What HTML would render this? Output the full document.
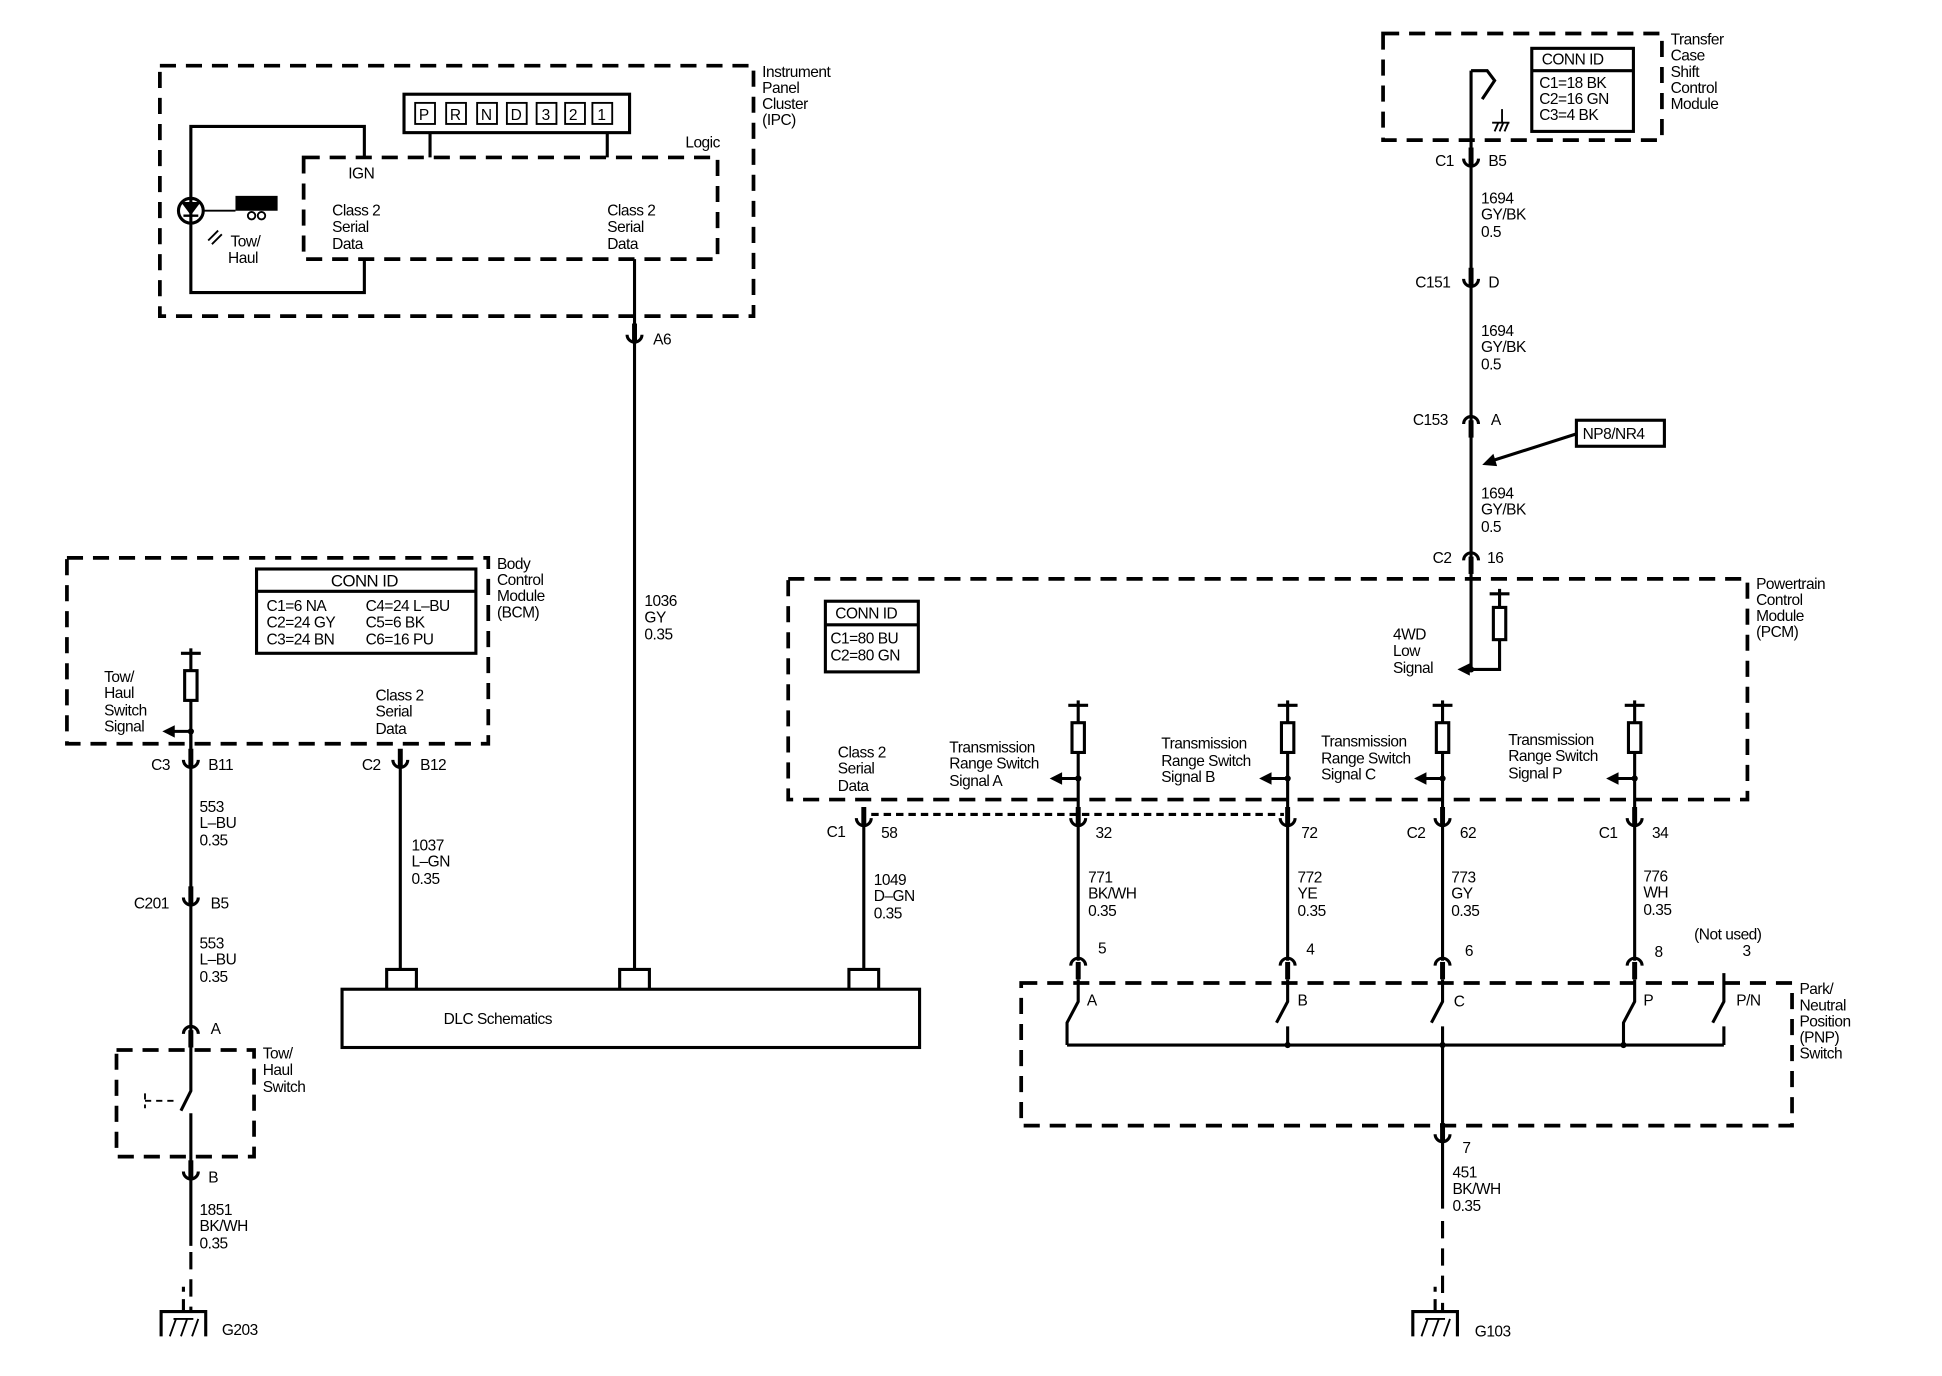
<!DOCTYPE html>
<html><head><meta charset="utf-8"><style>
html,body{margin:0;padding:0;background:#fff;}
svg{display:block;}
text{font-family:"Liberation Sans",sans-serif;font-size:12.5px;fill:#000;letter-spacing:-0.4px;}
.w{stroke:#000;stroke-width:2.5;fill:none;}
.d{stroke:#000;stroke-width:3;fill:none;stroke-dasharray:13 8;}
.t{stroke:#000;stroke-width:1.5;fill:none;}
</style></head><body>
<svg width="1942" height="1376" viewBox="0 0 1567 1110" preserveAspectRatio="none" xmlns="http://www.w3.org/2000/svg">
<defs>
<g id="cup"><path d="M-6,-5 A6,6 0 0 0 6,-5" class="w"/><line x1="0" y1="-14" x2="0" y2="2" stroke="#000" stroke-width="4"/></g>
<g id="cap"><path d="M-6,5 A6,6 0 0 1 6,5" class="w"/><line x1="0" y1="2" x2="0" y2="16" stroke="#000" stroke-width="4"/></g>
<g id="res"><line x1="-8" y1="0" x2="8" y2="0" class="w"/><line x1="0" y1="-4" x2="0" y2="14" class="w"/><rect x="-5" y="14" width="10" height="24" class="w"/><line x1="0" y1="38" x2="0" y2="92" class="w"/></g>
<g id="gnd"><path d="M-24,20 V0 H12 V20" class="w"/><line x1="-6" y1="0" x2="-6" y2="-20" class="w" stroke-dasharray="10 6"/><path d="M-17,20 L-12,6 M-8,20 L-3,6 M1,20 L6,6 M-14,6 H2" class="t" stroke-width="2"/></g>
</defs>

<!-- IPC -->
<rect x="129" y="53" width="479" height="202" class="d"/>
<text x="615" y="62">Instrument</text><text x="615" y="75">Panel</text><text x="615" y="88">Cluster</text><text x="615" y="101">(IPC)</text>
<rect x="326" y="76" width="182" height="31" class="w" stroke-width="3"/>
<g class="t" stroke-width="2">
<rect x="335" y="83" width="16" height="17"/><rect x="360" y="83" width="16" height="17"/><rect x="385" y="83" width="16" height="17"/><rect x="409" y="83" width="16" height="17"/><rect x="433" y="83" width="16" height="17"/><rect x="456" y="83" width="16" height="17"/><rect x="478" y="83" width="16" height="17"/>
</g>
<text x="338" y="97">P</text><text x="363" y="97">R</text><text x="388" y="97">N</text><text x="412" y="97">D</text><text x="437" y="97">3</text><text x="459" y="97">2</text><text x="482" y="97">1</text>
<path d="M347,107V127 M490,107V127" class="w"/>
<rect x="245" y="127" width="334" height="82" class="d" stroke-dasharray="11 7"/>
<text x="553" y="119">Logic</text>
<path d="M294,127V102H154V236H294V209" class="w"/>
<circle cx="154" cy="170" r="10" class="w"/>
<path d="M148,164H160L154,172Z M148,174H160" stroke="#000" stroke-width="2" fill="#000"/>
<line x1="165" y1="170" x2="190" y2="170" class="t"/>
<rect x="190" y="158" width="34" height="12" fill="#000"/>
<circle cx="203" cy="174" r="3" class="t" stroke-width="1.2"/><circle cx="211" cy="174" r="3" class="t" stroke-width="1.2"/>
<path d="M168,194L176,186M171,197L179,189" class="t" stroke-width="1.2"/>
<text x="186" y="199">Tow/</text><text x="184" y="212">Haul</text>
<text x="281" y="144">IGN</text>
<text x="268" y="174">Class 2</text><text x="268" y="187">Serial</text><text x="268" y="201">Data</text>
<text x="490" y="174">Class 2</text><text x="490" y="187">Serial</text><text x="490" y="201">Data</text>
<line x1="512" y1="209" x2="512" y2="783" class="w"/>
<use href="#cup" x="512" y="275"/>
<text x="527" y="278">A6</text>
<text x="520" y="489">1036</text><text x="520" y="502">GY</text><text x="520" y="516">0.35</text>

<!-- BCM -->
<rect x="54" y="450" width="340" height="150" class="d"/>
<text x="401" y="459">Body</text><text x="401" y="472">Control</text><text x="401" y="485">Module</text><text x="401" y="498">(BCM)</text>
<rect x="207" y="459" width="177" height="68" class="w" stroke-width="3"/>
<line x1="207" y1="477" x2="384" y2="477" class="w"/>
<text x="267" y="473" style="font-size:13.5px">CONN ID</text>
<text x="215" y="493">C1=6 NA</text><text x="295" y="493">C4=24 L–BU</text>
<text x="215" y="506">C2=24 GY</text><text x="295" y="506">C5=6 BK</text>
<text x="215" y="520">C3=24 BN</text><text x="295" y="520">C6=16 PU</text>
<use href="#res" x="154" y="527"/>
<line x1="154" y1="590" x2="154" y2="610" class="w"/>
<line x1="154" y1="590" x2="140" y2="590" class="w"/><path d="M131,590L141,585V595Z" fill="#000"/><circle cx="154" cy="590" r="2.5" fill="#000"/>
<text x="84" y="550">Tow/</text><text x="84" y="563">Haul</text><text x="84" y="577">Switch</text><text x="84" y="590">Signal</text>
<text x="303" y="565">Class 2</text><text x="303" y="578">Serial</text><text x="303" y="592">Data</text>
<use href="#cup" x="154" y="618"/><text x="122" y="621">C3</text><text x="168" y="621">B11</text>
<use href="#cup" x="323" y="618"/><text x="292" y="621">C2</text><text x="339" y="621">B12</text>
<line x1="154" y1="618" x2="154" y2="840" class="w"/>
<text x="161" y="655">553</text><text x="161" y="668">L–BU</text><text x="161" y="682">0.35</text>
<use href="#cup" x="154" y="729"/><text x="108" y="733">C201</text><text x="170" y="733">B5</text>
<text x="161" y="765">553</text><text x="161" y="778">L–BU</text><text x="161" y="792">0.35</text>
<use href="#cap" x="154" y="829"/><text x="170" y="834">A</text>
<rect x="94" y="847" width="111" height="86" class="d" stroke-dasharray="10 7"/>
<text x="212" y="854">Tow/</text><text x="212" y="867">Haul</text><text x="212" y="881">Switch</text>
<path d="M154,840V880L146,896 M154,898V945" class="w"/>
<path d="M117,882V894 M117,888H140" class="t" stroke-width="2" stroke-dasharray="5 4"/>
<use href="#cup" x="154" y="950"/><text x="168" y="954">B</text>
<line x1="154" y1="950" x2="154" y2="1005" class="w"/>
<text x="161" y="980">1851</text><text x="161" y="993">BK/WH</text><text x="161" y="1007">0.35</text>
<line x1="154" y1="1010" x2="154" y2="1058" class="w" stroke-dasharray="14 8"/>
<use href="#gnd" x="154" y="1058"/>
<text x="179" y="1077">G203</text>

<!-- DLC -->
<line x1="323" y1="618" x2="323" y2="783" class="w"/>
<text x="332" y="686">1037</text><text x="332" y="699">L–GN</text><text x="332" y="713">0.35</text>
<rect x="276" y="798" width="466" height="47" class="w" stroke-width="3"/>
<text x="358" y="826">DLC Schematics</text>
<path d="M312,797V782H336V797 M500,797V782H524V797 M685,797V782H709V797" class="w"/>
<line x1="697" y1="663" x2="697" y2="783" class="w"/>
<text x="705" y="714">1049</text><text x="705" y="727">D–GN</text><text x="705" y="741">0.35</text>

<!-- PCM -->
<rect x="636" y="467" width="774" height="178" class="d"/>
<text x="1417" y="475">Powertrain</text><text x="1417" y="488">Control</text><text x="1417" y="501">Module</text><text x="1417" y="514">(PCM)</text>
<rect x="666" y="485" width="75" height="57" class="w" stroke-width="3"/>
<line x1="666" y1="504" x2="741" y2="504" class="w"/>
<text x="674" y="499">CONN ID</text>
<text x="670" y="519">C1=80 BU</text><text x="670" y="533">C2=80 GN</text>
<text x="676" y="611">Class 2</text><text x="676" y="624">Serial</text><text x="676" y="638">Data</text>
<use href="#cup" x="697" y="665"/><text x="667" y="675">C1</text><text x="711" y="676">58</text>
<line x1="703" y1="657" x2="1036" y2="657" stroke="#000" stroke-width="2.5" stroke-dasharray="6 4"/>

<use href="#res" x="870" y="569"/><use href="#res" x="1039" y="569"/><use href="#res" x="1164" y="569"/><use href="#res" x="1319" y="569"/>
<g class="w">
<path d="M870,628H856 M1039,628H1025 M1164,628H1150 M1319,628H1305"/>
<path d="M870,660V775 M1039,660V775 M1164,660V775 M1319,660V775"/>
</g>
<g fill="#000">
<path d="M847,628L857,623V633Z"/><path d="M1016,628L1026,623V633Z"/><path d="M1141,628L1151,623V633Z"/><path d="M1296,628L1306,623V633Z"/>
<circle cx="870" cy="628" r="2.5"/><circle cx="1039" cy="628" r="2.5"/><circle cx="1164" cy="628" r="2.5"/><circle cx="1319" cy="628" r="2.5"/>
</g>
<text x="766" y="607">Transmission</text><text x="766" y="620">Range Switch</text><text x="766" y="634">Signal A</text>
<text x="937" y="604">Transmission</text><text x="937" y="618">Range Switch</text><text x="937" y="631">Signal B</text>
<text x="1066" y="602">Transmission</text><text x="1066" y="616">Range Switch</text><text x="1066" y="629">Signal C</text>
<text x="1217" y="601">Transmission</text><text x="1217" y="614">Range Switch</text><text x="1217" y="628">Signal P</text>
<use href="#cup" x="870" y="665"/><use href="#cup" x="1039" y="665"/><use href="#cup" x="1164" y="665"/><use href="#cup" x="1319" y="665"/>
<text x="884" y="676">32</text><text x="1050" y="676">72</text><text x="1135" y="676">C2</text><text x="1178" y="676">62</text><text x="1290" y="676">C1</text><text x="1333" y="676">34</text>
<text x="878" y="712">771</text><text x="878" y="725">BK/WH</text><text x="878" y="739">0.35</text>
<text x="1047" y="712">772</text><text x="1047" y="725">YE</text><text x="1047" y="739">0.35</text>
<text x="1171" y="712">773</text><text x="1171" y="725">GY</text><text x="1171" y="739">0.35</text>
<text x="1326" y="711">776</text><text x="1326" y="724">WH</text><text x="1326" y="738">0.35</text>

<!-- 4WD -->
<line x1="1187" y1="57" x2="1187" y2="540" class="w"/>
<g class="w">
<path d="M1202,479H1218 M1210,475V490 M1210,516V540H1184"/>
<rect x="1205" y="490" width="10" height="26"/>
</g>
<path d="M1176,540L1186,535V545Z" fill="#000"/><circle cx="1187" cy="540" r="2.5" fill="#000"/>
<text x="1124" y="516">4WD</text><text x="1124" y="529">Low</text><text x="1124" y="543">Signal</text>

<!-- PNP -->
<use href="#cap" x="870" y="774"/><use href="#cap" x="1039" y="774"/><use href="#cap" x="1164" y="774"/><use href="#cap" x="1319" y="774"/>
<text x="886" y="769">5</text><text x="1054" y="770">4</text><text x="1182" y="771">6</text><text x="1335" y="772">8</text>
<text x="1367" y="758">(Not used)</text><text x="1406" y="771">3</text>
<rect x="824" y="793" width="622" height="115" class="d"/>
<text x="1452" y="802">Park/</text><text x="1452" y="815">Neutral</text><text x="1452" y="828">Position</text><text x="1452" y="841">(PNP)</text><text x="1452" y="854">Switch</text>
<g class="w">
<path d="M870,790V808L861,825V843"/>
<path d="M1039,790V808L1030,825 M1039,828V843"/>
<path d="M1164,790V808L1155,825 M1164,828V910"/>
<path d="M1319,790V808L1310,825V843"/>
<path d="M1391,785V808L1382,825 M1391,828V843"/>
<path d="M861,843H1391"/>
</g>
<circle cx="1039" cy="843" r="2.5"/><circle cx="1164" cy="843" r="2.5"/><circle cx="1310" cy="843" r="2.5"/>
<text x="877" y="811">A</text><text x="1047" y="811">B</text><text x="1173" y="812">C</text><text x="1326" y="811">P</text><text x="1401" y="811">P/N</text>
<use href="#cup" x="1164" y="920"/><text x="1180" y="930">7</text>
<line x1="1164" y1="920" x2="1164" y2="975" class="w"/>
<text x="1172" y="950">451</text><text x="1172" y="963">BK/WH</text><text x="1172" y="977">0.35</text>
<line x1="1164" y1="985" x2="1164" y2="1058" class="w" stroke-dasharray="14 8"/>
<use href="#gnd" x="1164" y="1058"/>
<text x="1190" y="1078">G103</text>

<!-- Transfer case -->
<rect x="1116" y="27" width="225" height="86" class="d"/>
<text x="1348" y="36">Transfer</text><text x="1348" y="49">Case</text><text x="1348" y="62">Shift</text><text x="1348" y="75">Control</text><text x="1348" y="88">Module</text>
<rect x="1236" y="39" width="82" height="67" class="w" stroke-width="3"/>
<line x1="1236" y1="57" x2="1318" y2="57" class="w"/>
<text x="1244" y="52">CONN ID</text>
<text x="1242" y="71">C1=18 BK</text><text x="1242" y="84">C2=16 GN</text><text x="1242" y="97">C3=4 BK</text>
<path d="M1187,57H1200L1206,65L1196,80" class="w"/>
<path d="M1212,88V99 M1204,99H1218 M1206,106L1209,99 M1210,106L1213,99 M1214,106L1217,99" class="t"/>
<use href="#cup" x="1187" y="133"/><text x="1158" y="134">C1</text><text x="1201" y="134">B5</text>
<text x="1195" y="164">1694</text><text x="1195" y="177">GY/BK</text><text x="1195" y="191">0.5</text>
<use href="#cup" x="1187" y="230"/><text x="1142" y="232">C151</text><text x="1201" y="232">D</text>
<text x="1195" y="271">1694</text><text x="1195" y="284">GY/BK</text><text x="1195" y="298">0.5</text>
<use href="#cap" x="1187" y="337"/><text x="1140" y="343">C153</text><text x="1203" y="343">A</text>
<rect x="1272" y="339" width="71" height="21" class="w"/>
<text x="1277" y="354">NP8/NR4</text>
<line x1="1272" y1="350" x2="1203" y2="372" class="w" stroke-width="2"/><path d="M1196,375L1205,366L1208,376Z" fill="#000"/>
<text x="1195" y="402">1694</text><text x="1195" y="415">GY/BK</text><text x="1195" y="429">0.5</text>
<use href="#cap" x="1187" y="447"/><text x="1156" y="454">C2</text><text x="1200" y="454">16</text>
</svg>
</body></html>
